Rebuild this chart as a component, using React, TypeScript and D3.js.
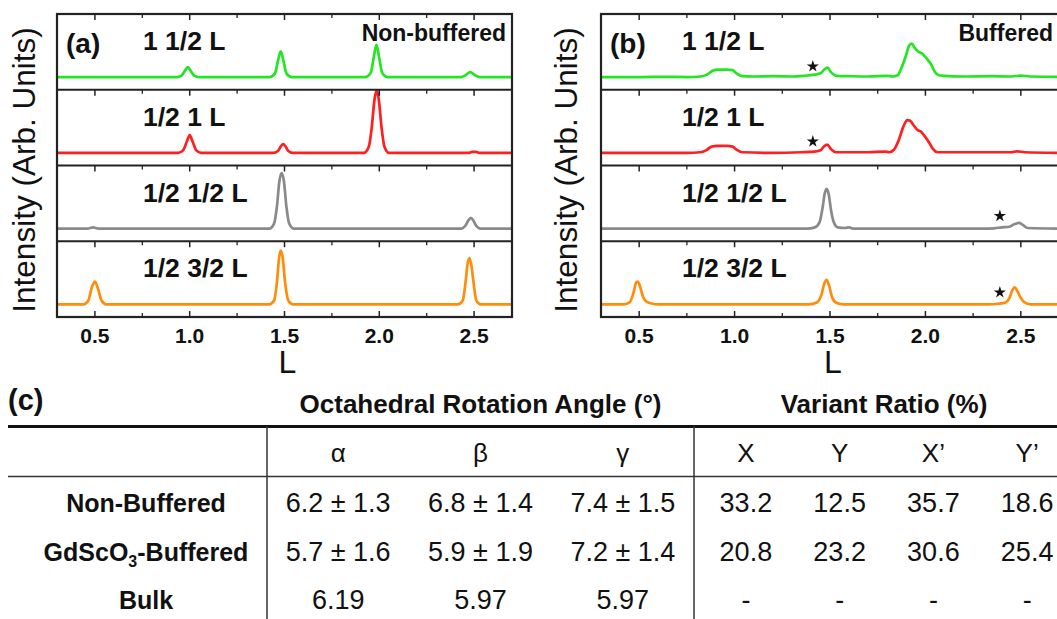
import React, { useRef, useEffect } from 'react';
import * as d3 from 'd3';

const W = 1057;
const H = 619;
const FONT = '"Liberation Sans", Arial, Helvetica, sans-serif';

// L axis
const lDomain = [0.3, 2.7];
const majorTicks = [0.5, 1.0, 1.5, 2.0, 2.5];
const minorTicks = [0.75, 1.25, 1.75, 2.25];

const scanLabels = ['1 1/2 L', '1/2 1 L', '1/2 1/2 L', '1/2 3/2 L'];
const scanColors = ['#22e622', '#ff1f1f', '#8a8a8a', '#ff8c0a'];

// (a) non-buffered scans, [L, intensity]
const nbGreen = [[0.3,0],[0.93,0],[0.955,0.02],[0.975,0.1],[0.99,0.16],[1.005,0.1],[1.025,0.02],[1.05,0],
  [1.42,0],[1.45,0.06],[1.465,0.25],[1.48,0.41],[1.495,0.25],[1.51,0.06],[1.54,0],
  [1.925,0],[1.955,0.07],[1.97,0.3],[1.985,0.51],[2.0,0.3],[2.015,0.07],[2.045,0],
  [2.43,0],[2.455,0.03],[2.48,0.08],[2.505,0.03],[2.53,0],[2.7,0]];
const nbRed = [[0.3,0],[0.94,0],[0.965,0.04],[0.985,0.18],[1.0,0.28],[1.015,0.18],[1.035,0.04],[1.06,0],
  [1.44,0],[1.465,0.03],[1.48,0.1],[1.493,0.14],[1.506,0.1],[1.52,0.03],[1.545,0],
  [1.92,0],[1.945,0.1],[1.96,0.4],[1.975,0.85],[1.986,0.99],[1.997,0.85],[2.012,0.4],[2.027,0.1],[2.05,0],
  [2.47,0],[2.49,0.015],[2.51,0.015],[2.53,0],[2.7,0]];
const nbGray = [[0.3,0],[0.46,0],[0.49,0.02],[0.52,0],
  [1.42,0],[1.445,0.08],[1.46,0.35],[1.473,0.75],[1.485,0.88],[1.497,0.75],[1.51,0.35],[1.525,0.08],[1.55,0],
  [2.43,0],[2.455,0.05],[2.47,0.13],[2.483,0.17],[2.496,0.13],[2.51,0.05],[2.535,0],[2.7,0]];
const nbOrange = [[0.3,0],[0.44,0],[0.465,0.06],[0.485,0.28],[0.5,0.36],[0.515,0.26],[0.535,0.06],[0.56,0],
  [1.42,0],[1.445,0.06],[1.46,0.35],[1.472,0.75],[1.48,0.85],[1.49,0.75],[1.503,0.35],[1.52,0.06],[1.545,0],
  [2.415,0],[2.44,0.06],[2.455,0.35],[2.466,0.65],[2.475,0.735],[2.484,0.65],[2.497,0.35],[2.512,0.06],[2.535,0],[2.7,0]];

// (b) buffered scans
const bGreen = [[0.3,0],[0.5,0],[0.65,0.005],[0.75,0],[0.82,0.01],[0.855,0.04],[0.885,0.1],[0.91,0.12],[0.96,0.12],
  [0.99,0.11],[1.01,0.06],[1.04,0.015],[1.1,0.01],[1.2,0.015],[1.3,0.01],[1.36,0.02],[1.42,0.04],[1.45,0.06],
  [1.47,0.12],[1.487,0.15],[1.505,0.08],[1.535,0.02],[1.6,0.015],[1.7,0.01],[1.8,0.02],[1.83,0.01],[1.855,0.03],
  [1.875,0.15],[1.897,0.33],[1.915,0.5],[1.928,0.53],[1.945,0.46],[1.965,0.4],[1.984,0.37],[2.005,0.3],[2.03,0.2],
  [2.05,0.08],[2.07,0.03],[2.1,0.02],[2.2,0.01],[2.35,0.015],[2.45,0.01],[2.5,0.025],[2.55,0.01],[2.7,0.005]];
const bRed = [[0.3,0],[0.6,0],[0.75,0],[0.82,0.01],[0.85,0.04],[0.88,0.1],[0.91,0.11],[0.96,0.11],[0.99,0.1],
  [1.01,0.05],[1.04,0.01],[1.2,0],[1.35,0.01],[1.42,0.02],[1.45,0.04],[1.468,0.1],[1.485,0.13],[1.505,0.06],
  [1.53,0.01],[1.7,0.01],[1.79,0.02],[1.81,0.01],[1.835,0.05],[1.86,0.2],[1.885,0.42],[1.905,0.52],[1.92,0.51],
  [1.94,0.43],[1.96,0.36],[1.975,0.34],[1.995,0.27],[2.02,0.16],[2.04,0.06],[2.065,0.01],[2.2,0.01],[2.45,0.01],
  [2.48,0.025],[2.52,0.01],[2.7,0]];
const bGray = [[0.3,0],[1.38,0],[1.42,0.02],[1.445,0.1],[1.462,0.35],[1.472,0.55],[1.482,0.63],[1.493,0.55],
  [1.505,0.3],[1.52,0.1],[1.54,0.02],[1.58,0.01],[1.6,0.02],[1.62,0],[2.3,0],[2.36,0.005],[2.4,0.02],[2.44,0.03],
  [2.465,0.07],[2.49,0.09],[2.51,0.06],[2.535,0.01],[2.7,0]];
const bOrange = [[0.3,0],[0.42,0],[0.45,0.03],[0.47,0.18],[0.485,0.35],[0.493,0.36],[0.505,0.28],[0.52,0.12],
  [0.54,0.04],[0.57,0.01],[0.6,0],[1.39,0],[1.43,0.03],[1.455,0.15],[1.47,0.33],[1.482,0.39],[1.495,0.3],
  [1.51,0.12],[1.53,0.03],[1.57,0],[2.33,0],[2.38,0.01],[2.42,0.03],[2.44,0.1],[2.455,0.22],[2.468,0.27],
  [2.48,0.22],[2.5,0.1],[2.52,0.03],[2.55,0],[2.7,0]];

// star markers in (b): [L, intensity] per scan
const bStars = [[1.41, 0.17], [1.41, 0.18], [2.39, 0.2], [2.39, 0.19]];

// table (c)
const angleCols = ['α', 'β', 'γ'];
const ratioCols = ['X', 'Y', 'X’', 'Y’'];
const rowNames = ['Non-Buffered', 'GdScO3-Buffered', 'Bulk'];
const angleVals = [
  ['6.2 ± 1.3', '6.8 ± 1.4', '7.4 ± 1.5'],
  ['5.7 ± 1.6', '5.9 ± 1.9', '7.2 ± 1.4'],
  ['6.19', '5.97', '5.97'],
];
const ratioVals = [
  ['33.2', '12.5', '35.7', '18.6'],
  ['20.8', '23.2', '30.6', '25.4'],
  ['-', '-', '-', '-'],
];

function drawPanel(svg, p) {
  const x = d3.scaleLinear().domain(lDomain).range([p.left, p.right]);
  const rows = d3.scaleBand().domain(d3.range(4)).range([14, 317]);
  const g = svg.append('g');

  p.series.forEach((data, i) => {
    const top = rows(i);
    const bottom = top + rows.bandwidth();
    const y = d3.scaleLinear().domain([-0.2, 1.0]).range([bottom, top]);
    const line = d3.line().x(d => x(d[0])).y(d => y(d[1])).curve(d3.curveMonotoneX);

    g.append('path')
      .datum(data)
      .attr('d', line)
      .attr('fill', 'none')
      .attr('stroke', scanColors[i])
      .attr('stroke-width', 2.7)
      .attr('stroke-linejoin', 'round');

    if (p.stars) {
      const s = p.stars[i];
      g.append('path')
        .attr('d', d3.symbol(d3.symbolStar, 46)())
        .attr('transform', `translate(${x(s[0])},${y(s[1])})`)
        .attr('fill', '#111');
    }

    // ticks on top edge of each strip, pointing in
    majorTicks.forEach(t => {
      g.append('line').attr('x1', x(t)).attr('x2', x(t)).attr('y1', top).attr('y2', top + 6)
        .attr('stroke', '#222').attr('stroke-width', 1.5);
    });
    minorTicks.forEach(t => {
      g.append('line').attr('x1', x(t)).attr('x2', x(t)).attr('y1', top).attr('y2', top + 4)
        .attr('stroke', '#222').attr('stroke-width', 1.3);
    });
    if (i === 3) {
      majorTicks.forEach(t => {
        g.append('line').attr('x1', x(t)).attr('x2', x(t)).attr('y1', bottom).attr('y2', bottom - 6)
          .attr('stroke', '#222').attr('stroke-width', 1.5);
      });
      minorTicks.forEach(t => {
        g.append('line').attr('x1', x(t)).attr('x2', x(t)).attr('y1', bottom).attr('y2', bottom - 4)
          .attr('stroke', '#222').attr('stroke-width', 1.3);
      });
    }

    // separator
    if (i > 0) {
      g.append('line').attr('x1', p.left).attr('x2', p.right).attr('y1', top).attr('y2', top)
        .attr('stroke', '#222').attr('stroke-width', 2.2);
    }

    g.append('text')
      .attr('x', p.labelX)
      .attr('y', top + 36)
      .attr('font-family', FONT)
      .attr('font-weight', 'bold')
      .attr('font-size', 26.5)
      .attr('fill', '#111')
      .text(scanLabels[i]);
  });

  // frame
  g.append('rect')
    .attr('x', p.left).attr('y', 14)
    .attr('width', p.right - p.left).attr('height', 303)
    .attr('fill', 'none').attr('stroke', '#222').attr('stroke-width', 2.2);

  g.append('text')
    .attr('x', p.left + 9).attr('y', 53)
    .attr('font-family', FONT).attr('font-weight', 'bold').attr('font-size', 28)
    .attr('fill', '#111')
    .text(p.tag);

  g.append('text')
    .attr('x', p.right - 6).attr('y', 41)
    .attr('text-anchor', 'end')
    .attr('font-family', FONT).attr('font-weight', 'bold').attr('font-size', 23)
    .attr('fill', '#111')
    .text(p.title);

  // tick labels
  g.selectAll('.tl')
    .data(majorTicks)
    .enter()
    .append('text')
    .attr('x', d => x(d))
    .attr('y', 343)
    .attr('text-anchor', 'middle')
    .attr('font-family', FONT).attr('font-weight', 'bold').attr('font-size', 21)
    .attr('fill', '#111')
    .text(d => d3.format('.1f')(d));

  g.append('text')
    .attr('x', (p.left + p.right) / 2 + 3).attr('y', 373)
    .attr('text-anchor', 'middle')
    .attr('font-family', FONT).attr('font-size', 32)
    .attr('fill', '#111')
    .text('L');

  g.append('text')
    .attr('transform', `translate(${p.yLabelX},170) rotate(-90)`)
    .attr('text-anchor', 'middle')
    .attr('font-family', FONT).attr('font-size', 31.5)
    .attr('fill', '#111')
    .text('Intensity (Arb. Units)');
}

function drawTable(svg) {
  const g = svg.append('g').attr('font-family', FONT).attr('fill', '#111');
  const angleX = d3.scaleBand().domain(angleCols).range([267, 694]);
  const ratioX = d3.scaleBand().domain(ratioCols).range([699, 1074]);
  const rowY = d3.scalePoint().domain(rowNames).range([512, 609]);

  g.append('text').attr('x', 8).attr('y', 410)
    .attr('font-weight', 'bold').attr('font-size', 29).text('(c)');

  g.append('text').attr('x', (267 + 694) / 2).attr('y', 413).attr('text-anchor', 'middle')
    .attr('font-weight', 'bold').attr('font-size', 26).text('Octahedral Rotation Angle (°)');
  g.append('text').attr('x', (694 + 1074) / 2).attr('y', 413).attr('text-anchor', 'middle')
    .attr('font-weight', 'bold').attr('font-size', 26).text('Variant Ratio (%)');

  g.append('line').attr('x1', 8).attr('x2', W).attr('y1', 426.5).attr('y2', 426.5)
    .attr('stroke', '#111').attr('stroke-width', 3);
  g.append('line').attr('x1', 8).attr('x2', W).attr('y1', 476.5).attr('y2', 476.5)
    .attr('stroke', '#333').attr('stroke-width', 1.3);
  [267, 694].forEach(vx => {
    g.append('line').attr('x1', vx).attr('x2', vx).attr('y1', 426).attr('y2', H)
      .attr('stroke', '#333').attr('stroke-width', 1.5);
  });

  angleCols.forEach(c => {
    g.append('text').attr('x', angleX(c) + angleX.bandwidth() / 2).attr('y', 462)
      .attr('text-anchor', 'middle').attr('font-size', 26).text(c);
  });
  ratioCols.forEach(c => {
    g.append('text').attr('x', ratioX(c) + ratioX.bandwidth() / 2).attr('y', 462)
      .attr('text-anchor', 'middle').attr('font-size', 26).text(c);
  });

  rowNames.forEach((r, ri) => {
    const y = rowY(r);
    const t = g.append('text').attr('x', 146).attr('y', y).attr('text-anchor', 'middle')
      .attr('font-weight', 'bold').attr('font-size', 25);
    if (r.includes('O3')) {
      t.append('tspan').text('GdScO');
      t.append('tspan').attr('font-size', 16).attr('dy', 6).text('3');
      t.append('tspan').attr('dy', -6).text('-Buffered');
    } else {
      t.text(r);
    }
    angleCols.forEach((c, ci) => {
      g.append('text').attr('x', angleX(c) + angleX.bandwidth() / 2).attr('y', y)
        .attr('text-anchor', 'middle').attr('font-size', 27).text(angleVals[ri][ci]);
    });
    ratioCols.forEach((c, ci) => {
      g.append('text').attr('x', ratioX(c) + ratioX.bandwidth() / 2).attr('y', y)
        .attr('text-anchor', 'middle').attr('font-size', 27).text(ratioVals[ri][ci]);
    });
  });
}

export default function App() {
  const svgRef = useRef(null);

  useEffect(() => {
    if (!svgRef.current) return;
    const svg = d3.select(svgRef.current);
    svg.selectAll('*').remove();

    drawPanel(svg, {
      left: 57, right: 512, tag: '(a)', title: 'Non-buffered', labelX: 143, yLabelX: 35,
      series: [nbGreen, nbRed, nbGray, nbOrange],
    });
    drawPanel(svg, {
      left: 601, right: 1059, tag: '(b)', title: 'Buffered', labelX: 682, yLabelX: 577,
      series: [bGreen, bRed, bGray, bOrange], stars: bStars,
    });
    drawTable(svg);
  }, []);

  return (
    <svg
      ref={svgRef}
      width={W}
      height={H}
      style={{ position: 'absolute', left: 0, top: 0, background: '#fff', display: 'block' }}
    />
  );
}
